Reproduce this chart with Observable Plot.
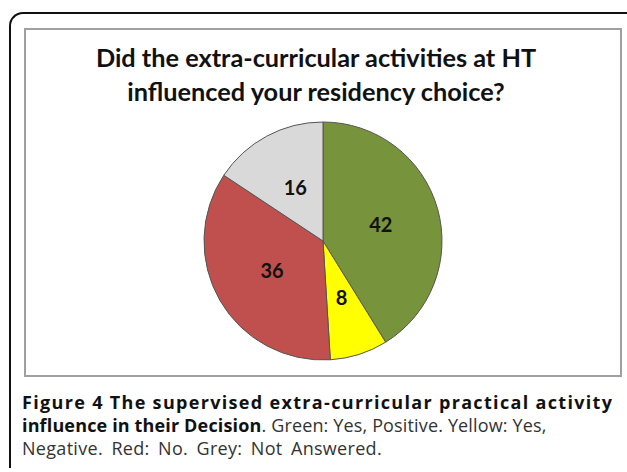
<!DOCTYPE html>
<html>
<head>
<meta charset="utf-8">
<script src="https://cdn.jsdelivr.net/npm/d3@7"></script>
<script src="https://cdn.jsdelivr.net/npm/@observablehq/plot@0.6"></script>
<style>
  html, body { margin: 0; padding: 0; background: #fff; }
  body { width: 627px; height: 472px; position: relative; overflow: hidden; }
  #outer { position: absolute; left: 9px; top: 12px; width: 640px; height: 454px;
           border-left: 2px solid #111; border-top: 2px solid #111; border-top-left-radius: 14px; }
  #box { position: absolute; left: 24px; top: 28px; width: 594px; height: 345px; border: 2px solid #a0a0a0; }
  #title { position: absolute; left: 19px; top: 40px; width: 594px; text-align: center;
           font-family: Lato, sans-serif; font-weight: bold; font-size: 25.3px; line-height: 34px; color: #111; }
  #chart { position: absolute; left: 202px; top: 120px; }
  #caption { position: absolute; left: 22px; top: 391px; width: 592px; font-family: "Open Sans", sans-serif;
             font-size: 18px; line-height: 23px; color: #333; white-space: nowrap; }
  #caption .l1 { font-weight: bold; color: #111; }
  #caption b { color: #111; }
  #caption .reg { letter-spacing: 0.15px; }
  #caption .l3 { word-spacing: 3.5px; letter-spacing: 0.3px; }
</style>
</head>
<body>
<div id="outer"></div>
<div id="box"></div>
<div id="title">Did the extra-curricular activities at HT<br>influenced your residency choice?</div>
<div id="chart"></div>
<div id="caption">
  <div class="l1" id="l1">Figure 4 The supervised extra-curricular practical activity</div>
  <div class="reg"><b>influence in their Decision</b>. Green: Yes, Positive. Yellow: Yes,</div>
  <div class="l3">Negative. Red: No. Grey: Not Answered.</div>
</div>
<script>
const categories = ["Yes, Positive", "Yes, Negative", "No", "Not Answered"];
const values = [42, 8, 36, 16];
const colors = ["#77933C", "#FFFF00", "#C0504D", "#D9D9D9"];

const arcs = d3.pie().sort(null).value(d => d.value)(
  categories.map((c, i) => ({category: c, value: values[i]}))
);
const slices = arcs.map(a => {
  const mid = (a.startAngle + a.endAngle) / 2;
  return {
    category: a.data.category, value: a.data.value,
    startAngle: a.startAngle, endAngle: a.endAngle,
    lx: 0.5 * Math.sin(mid), ly: 0.5 * Math.cos(mid)
  };
});

const size = 242, m = 2;
const pieMark = (index, scales) => {
  const cx = scales.x(0), cy = scales.y(0);
  const r = scales.x(1) - scales.x(0);
  const arc = d3.arc().innerRadius(0).outerRadius(r);
  const g = d3.create("svg:g").attr("transform", `translate(${cx},${cy})`);
  g.selectAll("path").data(slices).join("path")
    .attr("d", d => arc(d))
    .attr("fill", d => scales.color(d.category))
    .attr("stroke", "#555").attr("stroke-width", 1);
  return g.node();
};

const plot = Plot.plot({
  width: size, height: size, margin: m,
  x: {domain: [-1, 1], axis: null},
  y: {domain: [-1, 1], axis: null},
  color: {domain: categories, range: colors},
  style: {background: "transparent", overflow: "visible"},
  marks: [
    pieMark,
    Plot.text(slices, {x: "lx", y: "ly", text: d => String(d.value),
      fontSize: 20, fontWeight: "bold", fill: "#111", fontFamily: "Lato, sans-serif"})
  ]
});
document.getElementById("chart").appendChild(plot);

// Stretch first caption line to full width via letter-spacing (justified look)
const l1 = document.getElementById("l1");
const span = document.createElement("span");
span.textContent = l1.textContent;
l1.textContent = "";
l1.appendChild(span);
const target = 590;
const w = span.getBoundingClientRect().width;
const n = span.textContent.length - 1;
span.style.letterSpacing = ((target - w) / n) + "px";
</script>
</body>
</html>
